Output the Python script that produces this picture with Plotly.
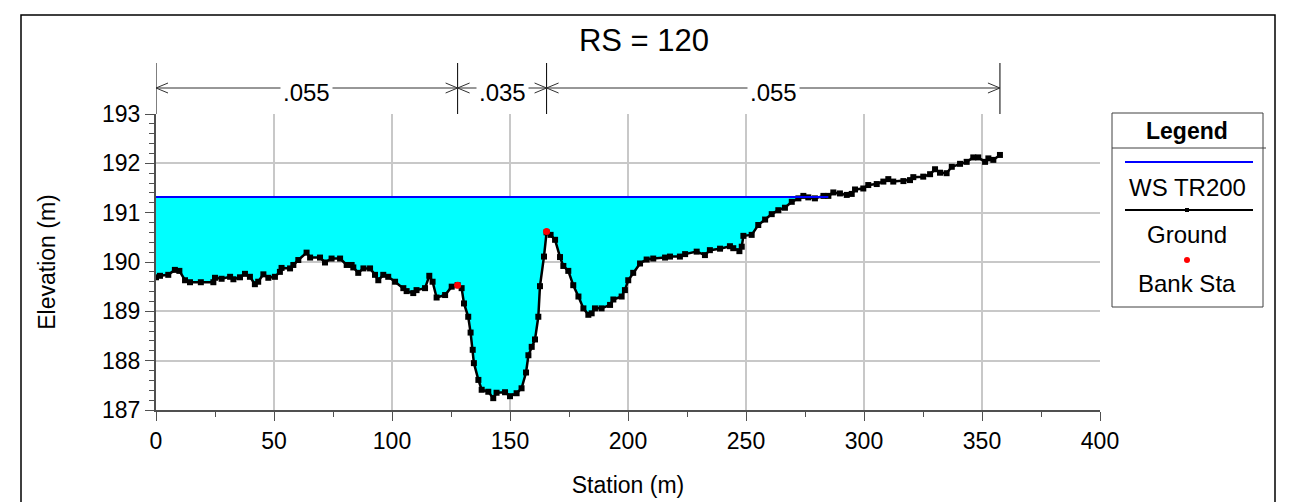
import numpy as np
import plotly.graph_objects as go

# ---------------- data ----------------
ground_sta = [0, 1.7, 5.2, 8.0, 9.9, 12.3, 14.4, 19.0, 24.3, 25.0, 27.8, 31.4, 32.8, 35.6, 37.7,
              39.8, 41.9, 43.3, 45.5, 47.6, 50.4, 52.5, 53.2, 56.8, 58.2, 60.3, 63.8, 65.3,
              69.5, 71.6, 74.4, 78.0, 80.8, 82.9, 83.6, 85.7, 87.9, 90.7, 92.8, 94.2, 96.3,
              98.4, 101.3, 104.8, 106.2, 109.0, 110.4, 114.0, 115.8, 117.2, 118.9, 122.5,
              125.3, 127.8, 129.5, 130.5, 132.3, 133.3, 134.2, 134.7, 136.6, 138.0, 140.8,
              142.9, 144.3, 147.9, 150.0, 152.8, 154.9, 156.8, 157.8, 159.2, 160.6, 162.0,
              162.7, 164.4, 165.5, 167.2, 169.1, 171.2, 172.6, 174.7, 176.8, 179.0, 181.1,
              183.2, 184.6, 186.0, 188.8, 192.4, 193.8, 197.3, 198.7, 200.1, 202.2, 205.1,
              207.9, 210.7, 215.7, 217.8, 222.0, 224.2, 229.1, 232.6, 234.7, 239.0, 243.2,
              244.6, 247.2, 248.2, 248.9, 252.4, 255.2, 258.1, 260.9, 263.7, 266.5, 269.4,
              272.2, 274.3, 276.4, 279.2, 282.8, 284.9, 287.0, 289.8, 292.7, 294.8, 296.2,
              299.7, 301.8, 305.4, 308.2, 310.3, 312.4, 316.7, 319.5, 320.9, 325.1, 328.0,
              330.1, 332.2, 335.0, 337.2, 340.7, 343.5, 346.3, 348.4, 351.3, 352.7, 354.8,
              357.6]
ground_elev = [189.69, 189.72, 189.74, 189.84, 189.82, 189.63, 189.59, 189.59, 189.59, 189.68,
               189.66, 189.70, 189.65, 189.69, 189.76, 189.70, 189.55, 189.60, 189.75, 189.68,
               189.70, 189.80, 189.88, 189.87, 189.94, 190.04, 190.19, 190.09, 190.09, 189.99,
               190.07, 190.07, 189.94, 189.94, 189.89, 189.78, 189.87, 189.87, 189.74, 189.63,
               189.74, 189.70, 189.60, 189.47, 189.41, 189.37, 189.43, 189.47, 189.72, 189.60,
               189.28, 189.33, 189.50, 189.53, 189.47, 189.16, 188.89, 188.57, 188.22, 187.95,
               187.61, 187.41, 187.37, 187.24, 187.35, 187.36, 187.28, 187.34, 187.44, 187.76,
               188.11, 188.28, 188.43, 188.89, 189.51, 190.11, 190.60, 190.55, 190.45, 190.10,
               189.92, 189.82, 189.53, 189.30, 189.06, 188.93, 188.96, 189.06, 189.06, 189.13,
               189.24, 189.30, 189.43, 189.63, 189.78, 189.97, 190.05, 190.07, 190.09, 190.11,
               190.11, 190.16, 190.21, 190.14, 190.24, 190.27, 190.32, 190.28, 190.22, 190.31,
               190.53, 190.55, 190.75, 190.86, 190.97, 191.05, 191.10, 191.22, 191.29, 191.34,
               191.31, 191.29, 191.34, 191.34, 191.41, 191.39, 191.36, 191.38, 191.47, 191.49,
               191.56, 191.58, 191.63, 191.68, 191.63, 191.64, 191.66, 191.72, 191.73, 191.78,
               191.88, 191.81, 191.80, 191.93, 191.99, 192.03, 192.12, 192.12, 192.03, 192.10,
               192.07, 192.17]
bank_sta = [127.8, 165.5]
bank_elev = [189.53, 190.62]
ws_elev = 191.32
ws_sta = [0, 284.9]
n_bounds = [0, 127.8, 165.5, 357.6]
n_labels = [".055", ".035", ".055"]
x_ticks = list(range(0, 401, 50))
y_ticks = list(range(187, 194))

# ---------------- geometry helpers (page pixel coordinates) ----------------
PAGE_W, PAGE_H = 1294, 502
OFF = 8                      # default page body margin of the html page
W, H = PAGE_W - OFF, PAGE_H - OFF
L, R, T, B = 156, 1100, 114, 410   # plot area in page pixels
XR = (0, 400)
YR = (187, 193)


def px(x):
    return (x - L) / (R - L)


def py(y):
    return (B - y) / (B - T)


units_per_px = (XR[1] - XR[0]) / (R - L)
FONT = "Liberation Sans, Arial, sans-serif"

g_sta = np.array(ground_sta)
g_elev = np.array(ground_elev)

# water fill polygon between WS and ground (where ground below WS)
mask = g_sta <= ws_sta[1]
poly_x = list(g_sta[mask]) + [ws_sta[1], ws_sta[0]]
poly_y = list(np.minimum(g_elev[mask], ws_elev)) + [ws_elev, ws_elev]

fig = go.Figure()
fig.add_trace(go.Scatter(x=poly_x, y=poly_y, fill="toself", fillcolor="#00FFFF",
                         mode="lines", line=dict(width=0), hoverinfo="skip", showlegend=False))
fig.add_trace(go.Scatter(x=ground_sta, y=ground_elev, mode="lines+markers", name="Ground",
                         line=dict(color="black", width=2.5),
                         marker=dict(symbol="square", size=6, color="black"), showlegend=False))
fig.add_trace(go.Scatter(x=ws_sta, y=[ws_elev, ws_elev], mode="lines", name="WS TR200",
                         line=dict(color="#0000FF", width=2), showlegend=False))
fig.add_trace(go.Scatter(x=bank_sta, y=bank_elev, mode="markers", name="Bank Sta",
                         marker=dict(symbol="circle", size=7, color="#FF0000"), showlegend=False))

shapes = []
annotations = []

# Manning's n bars above plot
yA = py(88)
ah = 12 * units_per_px
dy = 5 / (B - T)
for b in n_bounds:
    shapes.append(dict(type="line", xref="x", yref="paper", x0=b, x1=b, y0=1.0, y1=py(63),
                       line=dict(color="black", width=1)))
for i in range(len(n_labels)):
    a, b = n_bounds[i], n_bounds[i + 1]
    shapes.append(dict(type="line", xref="x", yref="paper", x0=a, x1=b, y0=yA, y1=yA,
                       line=dict(color="#303030", width=1)))
    shapes.append(dict(type="path", xref="x", yref="paper",
                       path=f"M {a + ah},{yA + dy} L {a},{yA} L {a + ah},{yA - dy}",
                       line=dict(color="#303030", width=1)))
    shapes.append(dict(type="path", xref="x", yref="paper",
                       path=f"M {b - ah},{yA + dy} L {b},{yA} L {b - ah},{yA - dy}",
                       line=dict(color="#303030", width=1)))
    annotations.append(dict(x=(a + b) / 2, y=py(93), xref="x", yref="paper", text=n_labels[i],
                            showarrow=False, bgcolor="white", borderpad=2,
                            font=dict(family=FONT, size=24, color="black"),
                            xanchor="center", yanchor="middle"))

# Legend box (manual)
lx0, lx1 = px(1112), px(1263)
shapes.append(dict(type="rect", xref="paper", yref="paper", x0=lx0, x1=lx1, y0=py(307), y1=py(113),
                   line=dict(color="#404040", width=1), fillcolor="white", layer="below"))
shapes.append(dict(type="line", xref="paper", yref="paper", x0=lx0, x1=px(1266), y0=py(148), y1=py(148),
                   line=dict(color="#404040", width=1)))
lcx = px(1187)
annotations.append(dict(x=lcx, y=py(131), xref="paper", yref="paper", text="<b>Legend</b>",
                        showarrow=False, font=dict(family=FONT, size=23, color="black"),
                        xanchor="center", yanchor="middle"))
shapes.append(dict(type="line", xref="paper", yref="paper", x0=px(1125), x1=px(1253), y0=py(162), y1=py(162),
                   line=dict(color="#0000FF", width=2)))
annotations.append(dict(x=lcx, y=py(187), xref="paper", yref="paper", text="WS TR200",
                        showarrow=False, font=dict(family=FONT, size=24, color="black"),
                        xanchor="center", yanchor="middle"))
shapes.append(dict(type="line", xref="paper", yref="paper", x0=px(1125), x1=px(1253), y0=py(210), y1=py(210),
                   line=dict(color="black", width=2)))
shapes.append(dict(type="rect", xref="paper", yref="paper", x0=px(1185), x1=px(1189), y0=py(212), y1=py(208),
                   line=dict(width=0), fillcolor="black"))
annotations.append(dict(x=lcx, y=py(234), xref="paper", yref="paper", text="Ground",
                        showarrow=False, font=dict(family=FONT, size=24, color="black"),
                        xanchor="center", yanchor="middle"))
shapes.append(dict(type="circle", xref="paper", yref="paper", x0=px(1184), x1=px(1190), y0=py(263), y1=py(257),
                   line=dict(width=0), fillcolor="#FF0000"))
annotations.append(dict(x=lcx, y=py(283), xref="paper", yref="paper", text="Bank Sta",
                        showarrow=False, font=dict(family=FONT, size=24, color="black"),
                        xanchor="center", yanchor="middle"))

# Outer frame
shapes.append(dict(type="rect", xref="paper", yref="paper", x0=px(21), x1=px(1275), y0=py(520), y1=py(15),
                   line=dict(color="black", width=1.5)))
shapes.append(dict(type="line", xref="paper", yref="paper", x0=px(1288.5), x1=px(1288.5), y0=py(0), y1=py(520),
                   line=dict(color="black", width=3)))

axis_common = dict(showline=True, linecolor="#505050", linewidth=2, ticks="outside", ticklen=9,
                   tickwidth=1, tickcolor="#505050", showgrid=True, gridcolor="#C8C8C8", gridwidth=2,
                   zeroline=False, tickfont=dict(family=FONT, size=23, color="black"))

fig.update_layout(
    width=W, height=H,
    margin=dict(l=L - OFF, r=PAGE_W - R, t=T - OFF, b=PAGE_H - B, autoexpand=False),
    paper_bgcolor="white", plot_bgcolor="white",
    title=dict(text="RS = 120", x=(644 - OFF) / W, xref="container", xanchor="center",
               y=1 - (40 - OFF) / H, yref="container", yanchor="middle",
               font=dict(family=FONT, size=31, color="black")),
    xaxis=dict(range=list(XR), tickvals=x_ticks, **axis_common,
               minor=dict(dtick=25, ticks="outside", ticklen=5, tickcolor="#505050", showgrid=False),
               title=dict(text="Station (m)", standoff=24, font=dict(family=FONT, size=23, color="black"))),
    yaxis=dict(range=list(YR), tickvals=y_ticks, **axis_common,
               minor=dict(dtick=0.2, ticks="outside", ticklen=5, tickcolor="#505050", showgrid=False),
               title=dict(text="Elevation (m)", standoff=40, font=dict(family=FONT, size=23, color="black"))),
    shapes=shapes,
    annotations=annotations,
    showlegend=False,
)

fig.write_html("out.html")
